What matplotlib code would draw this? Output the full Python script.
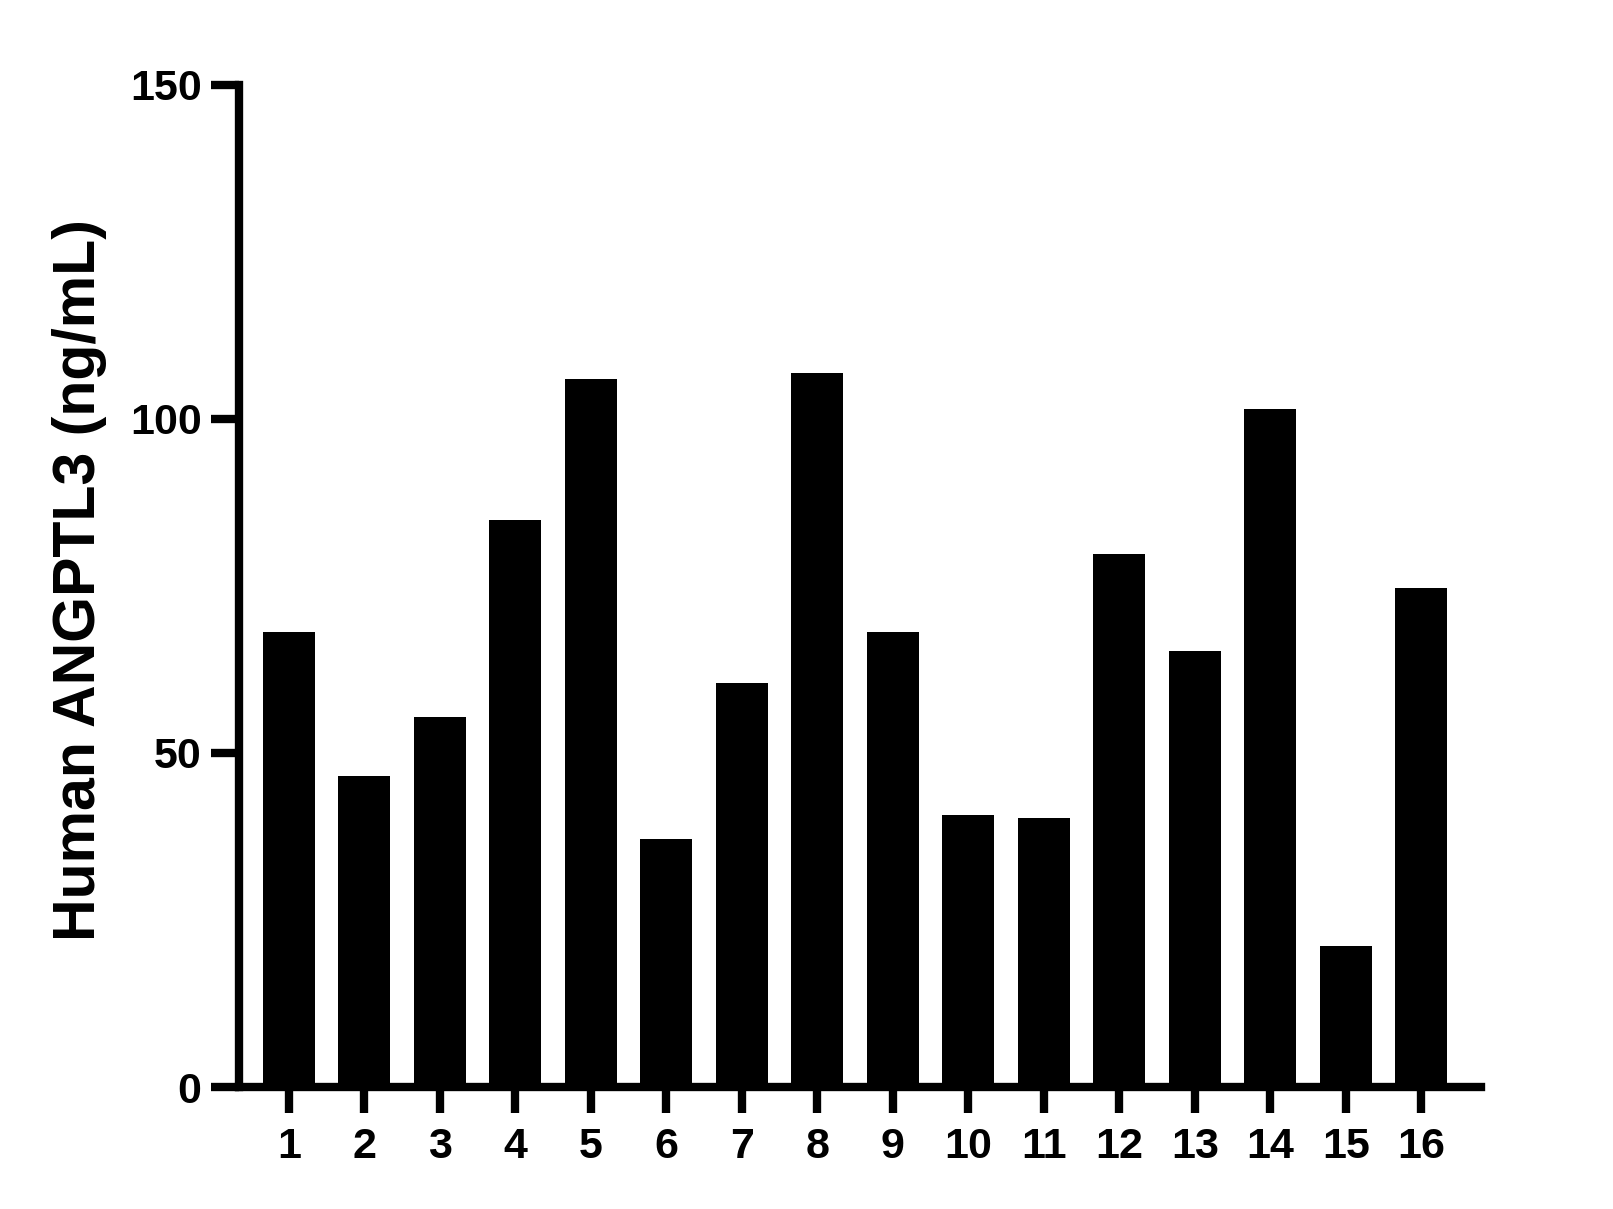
import matplotlib
matplotlib.use("Agg")
import matplotlib.pyplot as plt

# sample numbers and measured concentrations
samples = [str(i) for i in range(1, 17)]
values = [68.1, 46.5, 55.3, 84.9, 106.0, 37.1, 60.5, 106.8,
          68.1, 40.7, 40.2, 79.8, 65.3, 101.5, 21.1, 74.7]
y_ticks = [0, 50, 100, 150]
y_label = "Human ANGPTL3 (ng/mL)"

plt.rcParams['font.family'] = ['Liberation Sans', 'DejaVu Sans']
plt.rcParams['font.weight'] = 'bold'

fig = plt.figure(figsize=(16.13, 12.09), dpi=100)
ax = fig.add_axes([0.1482, 0.1009, 0.77, 0.8292])

x = list(range(1, len(samples) + 1))
ax.bar(x, values, width=0.69, color='black', edgecolor='none')

lw = 6
ax.spines['top'].set_visible(False)
ax.spines['right'].set_visible(False)
for s in ('left', 'bottom'):
    ax.spines[s].set_linewidth(lw)
    ax.spines[s].set_capstyle('projecting')

ax.set_xlim(0.34, 16.79)
ax.set_ylim(0, 150)
ax.set_yticks(y_ticks)
ax.set_xticks(x)
ax.set_xticklabels(samples)

ax.tick_params(axis='y', length=20, width=lw, pad=7, labelsize=31)
ax.tick_params(axis='x', length=19, width=lw, pad=10, labelsize=31)
for lab in ax.get_xticklabels() + ax.get_yticklabels():
    lab.set_fontweight('bold')

ax.set_ylabel(y_label, fontsize=42.5, fontweight='bold')
ax.yaxis.set_label_coords(-0.106, 0.506)

fig.savefig('out.png', dpi=100)
